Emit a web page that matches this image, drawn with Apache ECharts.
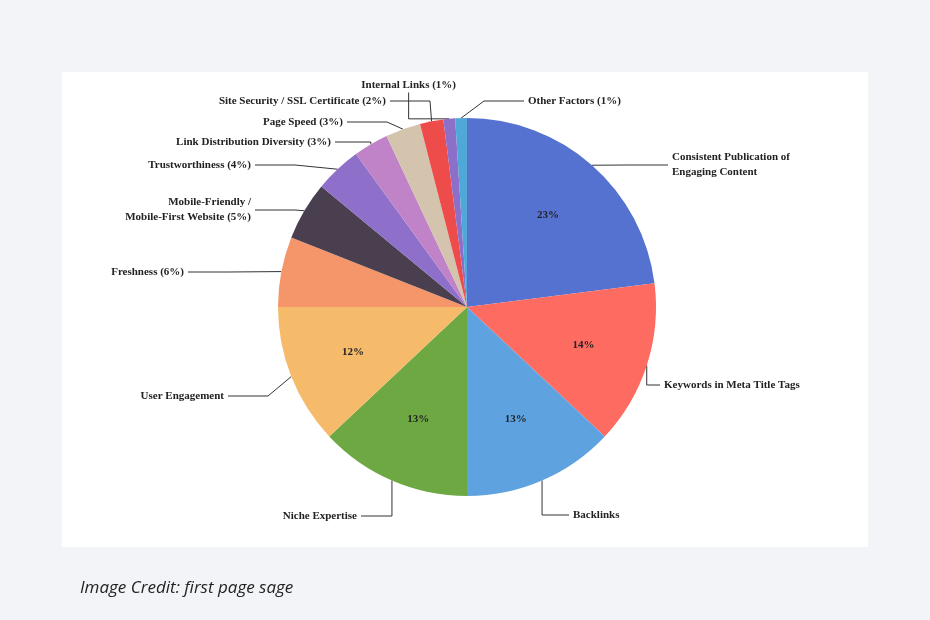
<!DOCTYPE html>
<html><head><meta charset="utf-8">
<script src="https://cdn.jsdelivr.net/npm/echarts@6/dist/echarts.min.js"></script>
<style>
body{margin:0;background:#f3f4f8;}
#panel{position:absolute;left:62px;top:72px;width:806px;height:475px;background:#fff;}
#chart{position:absolute;left:0;top:0;width:930px;height:620px;}
#credit{position:absolute;left:80px;top:575px;font:italic 17px "Open Sans",sans-serif;color:#222;}
</style></head>
<body>
<div id="panel"></div>
<div id="chart"></div>
<div id="credit">Image Credit: first page sage</div>
<script>
var names = ['Consistent Publication of\nEngaging Content','Keywords in Meta Title Tags','Backlinks','Niche Expertise','User Engagement',
  'Freshness (6%)','Mobile-Friendly /\nMobile-First Website (5%)','Trustworthiness (4%)','Link Distribution Diversity (3%)',
  'Page Speed (3%)','Site Security / SSL Certificate (2%)','Internal Links (1%)','Other Factors (1%)'];
var values = [23,14,13,13,12,6,5,4,3,3,2,1,1];
var colors = ['#5672d0','#fd6b61','#5ea3e0','#6ea843','#f5bb6b','#f4966a','#4a3f4f','#8e6fc9','#c183c7','#d4c4ad','#ee4b4b','#8c6fc9','#4fa8d8'];
var insideIdx = [0,1,2,3,4];
// label anchor spots: [x, y, align]
var labelSpots = [[668,165,'left'],[660,385,'left'],[569,515,'left'],[361,516,'right'],[228,396,'right'],
  [188,272,'right'],[255,210,'right'],[255,165,'right'],[335,142,'right'],[347,122,'right'],
  [390,101,'right'],[460,85,'right'],[524,101,'left']];

var chart = echarts.init(document.getElementById('chart'));
var data = values.map(function(v,i){
  return {value:v, name:names[i], itemStyle:{color:colors[i]}};
});
var font = {fontFamily:'Liberation Serif', fontSize:11, fontWeight:'bold', color:'#222'};
chart.setOption({
  animation:false,
  series:[{
    type:'pie',
    center:[467,307],
    radius:189,
    startAngle:90,
    clockwise:true,
    data:data,
    label:Object.assign({show:true,formatter:'{b}',lineHeight:15,padding:[0,4]}, font),
    labelLine:{show:true,length:14,length2:40,lineStyle:{color:'#333',width:1}},
    labelLayout:function(p){
      var s = labelSpots[p.dataIndex];
      return {x:s[0], y:s[1], align:s[2], verticalAlign:'middle'};
    },
    emphasis:{disabled:true}
  },{
    type:'pie',
    center:[467,307],
    radius:[50,189],
    startAngle:90,
    silent:true,
    itemStyle:{color:'transparent'},
    data:values.map(function(v,i){
      return {value:v, name:'p'+i, label:{show:insideIdx.indexOf(i)>=0}};
    }),
    label:Object.assign({position:'inner',formatter:'{c}%'}, font),
    labelLine:{show:false}
  }]
});
</script>
</body></html>
